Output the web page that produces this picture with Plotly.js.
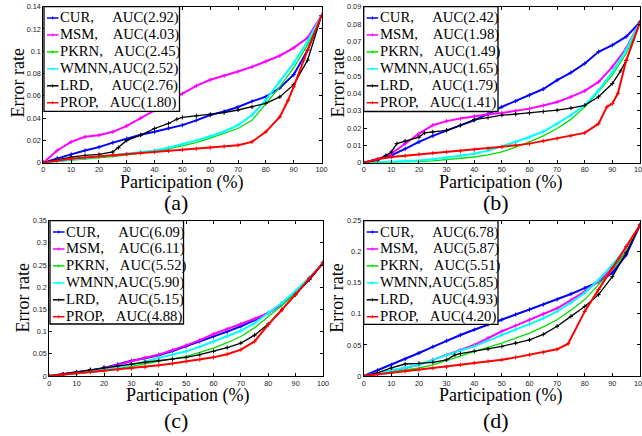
<!DOCTYPE html>
<html>
<head>
<meta charset="utf-8">
<script src="https://cdn.plot.ly/plotly-3.0.1.min.js"></script>
<style>html,body{margin:0;padding:0;background:#fff;}#chart{width:642px;height:436px;}</style>
</head>
<body>
<div id="chart"></div>
<script>
// ---------- data ----------
const methods = ["CUR", "MSM", "PKRN", "WMNN", "LRD", "PROP"];
const colors = ["#0000ff", "#ff00ff", "#00e000", "#00ffff", "#000000", "#ff0000"];
const panelLabels = ["(a)", "(b)", "(c)", "(d)"];
const xLabel = "Participation (%)";
const yLabel = "Error rate";

const aucA = ["2.92", "4.03", "2.45", "2.52", "2.76", "1.80"];
const aucB = ["2.42", "1.98", "1.49", "1.65", "1.79", "1.41"];
const aucC = ["6.09", "6.11", "5.52", "5.90", "5.15", "4.88"];
const aucD = ["6.78", "5.87", "5.51", "5.85", "4.93", "4.20"];

const xGrid = [0,5,10,15,20,25,30,35,40,45,50,55,60,65,70,75,80,85,90,95,100];

// panel (a)
const a_CUR  = [0,0.004,0.0075,0.011,0.014,0.018,0.0217,0.025,0.0277,0.031,0.0337,0.038,0.0428,0.046,0.050,0.055,0.0593,0.067,0.079,0.101,0.132];
const a_MSM  = [0,0.011,0.0187,0.0232,0.0247,0.0277,0.033,0.040,0.047,0.055,0.062,0.069,0.0744,0.078,0.0819,0.086,0.0909,0.096,0.103,0.112,0.132];
const a_PKRN = [0,0.001,0.002,0.003,0.004,0.0055,0.007,0.0085,0.010,0.0125,0.015,0.018,0.022,0.026,0.0307,0.038,0.0533,0.068,0.085,0.106,0.132];
const a_WMNN = [0,0.0015,0.003,0.004,0.0055,0.0068,0.008,0.0095,0.011,0.0135,0.0166,0.020,0.0238,0.028,0.0337,0.0428,0.0563,0.0729,0.0894,0.109,0.132];
const a_LRD_x = [0,5,10,15,20,25,27,30,35,40,45,48,50,55,60,65,70,75,80,85,90,95,100];
const a_LRD  = [0,0.0025,0.005,0.0065,0.0075,0.0096,0.0135,0.020,0.0247,0.0307,0.0352,0.039,0.0406,0.042,0.0434,0.045,0.0473,0.050,0.0533,0.059,0.070,0.092,0.132];
const a_PROP_x = [0,5,10,15,20,25,30,35,40,45,50,55,60,65,70,75,80,85,88,90,95,100];
const a_PROP = [0,0.002,0.0036,0.0047,0.0057,0.0066,0.0075,0.0085,0.0096,0.0106,0.0117,0.0126,0.0135,0.0145,0.0157,0.0187,0.0277,0.041,0.056,0.068,0.101,0.132];

// panel (b)
const b_CUR  = [0,0.002,0.0042,0.008,0.012,0.0155,0.0187,0.0215,0.0245,0.028,0.0322,0.0355,0.039,0.0425,0.0476,0.052,0.0572,0.064,0.0678,0.0727,0.081];
const b_MSM  = [0,0.002,0.0052,0.011,0.0168,0.0216,0.024,0.0255,0.0268,0.028,0.0287,0.030,0.0312,0.033,0.035,0.038,0.0414,0.0466,0.0553,0.066,0.081];
const b_PKRN = [0,0.0001,0.0003,0.0005,0.0006,0.001,0.0017,0.0025,0.0033,0.0045,0.0062,0.009,0.012,0.0155,0.0197,0.025,0.0322,0.041,0.0505,0.063,0.081];
const b_WMNN = [0,0.0003,0.0008,0.001,0.0013,0.002,0.0029,0.004,0.0052,0.007,0.0094,0.012,0.0148,0.018,0.0225,0.0275,0.0331,0.0418,0.0524,0.065,0.081];
const b_LRD_x = [0,5,8,10,12,15,20,22,25,30,35,40,45,50,55,60,65,70,75,80,85,90,93,95,100];
const b_LRD  = [0,0.0013,0.0042,0.0062,0.011,0.0125,0.0148,0.0172,0.0178,0.0187,0.0216,0.0249,0.026,0.0274,0.028,0.0287,0.0295,0.0303,0.0315,0.0331,0.038,0.0457,0.053,0.059,0.081];
const b_PROP_x = [0,5,10,15,20,25,30,35,40,45,50,55,60,65,70,75,80,85,88,90,92,95,100];
const b_PROP = [0,0.002,0.0033,0.004,0.0048,0.0055,0.0062,0.0068,0.0075,0.0083,0.0091,0.010,0.011,0.0125,0.0139,0.0155,0.0172,0.0225,0.0322,0.0341,0.040,0.059,0.081];

// panel (c)
const c_CUR  = [0,0.004,0.0083,0.013,0.018,0.026,0.0345,0.040,0.0466,0.056,0.0668,0.078,0.089,0.100,0.112,0.126,0.142,0.162,0.187,0.218,0.255];
const c_MSM  = [0,0.0035,0.0075,0.012,0.017,0.025,0.034,0.041,0.048,0.058,0.069,0.081,0.0946,0.106,0.117,0.129,0.142,0.162,0.187,0.218,0.255];
const c_PKRN = [0,0.0025,0.005,0.008,0.011,0.016,0.0218,0.027,0.033,0.038,0.0443,0.053,0.063,0.075,0.089,0.109,0.134,0.159,0.187,0.219,0.255];
const c_WMNN = [0,0.003,0.006,0.010,0.014,0.019,0.0255,0.033,0.0405,0.048,0.0556,0.066,0.078,0.090,0.102,0.119,0.142,0.165,0.192,0.222,0.255];
const c_LRD  = [0,0.0045,0.009,0.0145,0.0195,0.023,0.027,0.031,0.0345,0.038,0.042,0.048,0.0556,0.064,0.0743,0.092,0.117,0.150,0.183,0.217,0.255];
const c_PROP = [0,0.003,0.006,0.009,0.012,0.014,0.0165,0.020,0.024,0.028,0.033,0.037,0.042,0.049,0.0593,0.078,0.1157,0.149,0.185,0.220,0.255];

// panel (d)
const d_CUR  = [0,0.009,0.018,0.0275,0.037,0.047,0.0568,0.066,0.0745,0.083,0.0906,0.099,0.107,0.115,0.123,0.132,0.1415,0.152,0.166,0.195,0.243];
const d_MSM  = [0,0.004,0.008,0.013,0.018,0.026,0.034,0.042,0.050,0.061,0.072,0.081,0.0906,0.100,0.109,0.122,0.136,0.152,0.174,0.200,0.243];
const d_PKRN = [0,0.003,0.006,0.0095,0.0129,0.018,0.0247,0.032,0.0397,0.046,0.053,0.061,0.069,0.079,0.0906,0.106,0.123,0.147,0.171,0.200,0.243];
const d_WMNN = [0,0.0045,0.009,0.0135,0.018,0.026,0.034,0.041,0.0477,0.057,0.0665,0.075,0.0836,0.093,0.104,0.118,0.1335,0.155,0.179,0.206,0.243];
const d_LRD_x = [0,5,10,15,20,25,30,33,35,40,45,50,55,60,65,70,75,80,85,90,95,100];
const d_LRD  = [0,0.005,0.0129,0.0193,0.0204,0.022,0.026,0.034,0.036,0.0397,0.0435,0.0477,0.053,0.058,0.067,0.080,0.096,0.112,0.131,0.160,0.198,0.243];
const d_PROP_x = [0,5,10,15,20,25,30,35,40,45,50,55,60,65,70,74,80,85,90,95,100];
const d_PROP = [0,0.0025,0.0048,0.0075,0.0102,0.0125,0.0145,0.018,0.021,0.0235,0.026,0.030,0.034,0.038,0.043,0.052,0.104,0.139,0.174,0.2085,0.243];

const yMax = [0.14, 0.09, 0.35, 0.25];
const yStep = [0.02, 0.01, 0.05, 0.05];
const gapSpaces = [5, 4, 3, 0, 5, 3];

// ---------- layout geometry (px) ----------
const W = 642, H = 436;
const boxes = [            // plot area: left, right, top, bottom
  [43.3, 321.5, 6.7, 162.7],
  [363.7, 640, 6.7, 162.7],
  [49.3, 323, 220.7, 376],
  [363.7, 640, 220.7, 376]
];
const legBoxes = [         // legend box: left, top, right, bottom
  [44, 6.7, 179.5, 111.3],
  [363.7, 6.7, 498, 111.5],
  [50, 220.7, 183.5, 324],
  [363.7, 220.7, 498, 324.3]
];
const xTitlePos = [[182, 182.5], [500.8, 182.5], [187.2, 395], [500.8, 395]];
const yTitlePos = [[17.5, 83], [337, 83.5], [22.5, 298], [336.8, 298]];
const panelLabelPos = [[175.5, 202], [496.5, 203], [175.8, 420], [496.5, 420]];

const panels = [
  {auc: aucA, ys: [a_CUR, a_MSM, a_PKRN, a_WMNN, a_LRD, a_PROP], xs: [xGrid, xGrid, xGrid, xGrid, a_LRD_x, a_PROP_x]},
  {auc: aucB, ys: [b_CUR, b_MSM, b_PKRN, b_WMNN, b_LRD, b_PROP], xs: [xGrid, xGrid, xGrid, xGrid, b_LRD_x, b_PROP_x]},
  {auc: aucC, ys: [c_CUR, c_MSM, c_PKRN, c_WMNN, c_LRD, c_PROP], xs: [xGrid, xGrid, xGrid, xGrid, xGrid, xGrid]},
  {auc: aucD, ys: [d_CUR, d_MSM, d_PKRN, d_WMNN, d_LRD, d_PROP], xs: [xGrid, xGrid, xGrid, xGrid, d_LRD_x, d_PROP_x]}
];

const serif = "Liberation Serif, Times New Roman, serif";
const sans = "Liberation Sans, Arial, sans-serif";
const px = v => v / W, py = v => 1 - v / H;
const traces = [];
const shapes = [];
const annotations = [];
const layout = {
  width: W, height: H,
  margin: {l: 0, r: 0, t: 0, b: 0},
  paper_bgcolor: "#fff", plot_bgcolor: "#fff",
  showlegend: false
};

panels.forEach((p, i) => {
  const n = i === 0 ? "" : String(i + 1);
  const b = boxes[i];
  methods.forEach((m, k) => {
    const label = m + "," + "\u00a0".repeat(gapSpaces[k]) + "AUC(" + p.auc[k] + ")";
    const thin = (m === "PKRN");
    traces.push({
      type: "scatter",
      x: p.xs[k], y: p.ys[k],
      xaxis: "x" + n, yaxis: "y" + n,
      name: label,
      mode: thin ? "lines" : "lines+markers",
      line: {color: colors[k], width: (m === "LRD" || thin) ? 1.3 : 2},
      marker: {symbol: "cross-thin", size: 3, line: {color: colors[k], width: 1}, color: colors[k]}
    });
  });
  const axCommon = {
    showline: true, linecolor: "#000", linewidth: 1, mirror: "ticks",
    ticks: "inside", ticklen: 3, tickcolor: "#000", tickwidth: 1,
    showgrid: false, zeroline: false, ticklabeloverflow: "allow",
    tickfont: {family: sans, size: 7.3, color: "#222"}
  };
  layout["xaxis" + n] = Object.assign({}, axCommon, {
    domain: [px(b[0]), px(b[1])], range: [0, 100], dtick: 10, tick0: 0, anchor: "y" + n
  });
  layout["yaxis" + n] = Object.assign({}, axCommon, {
    domain: [py(b[3]), py(b[2])], range: [0, yMax[i]], dtick: yStep[i], tick0: 0, anchor: "x" + n
  });

  // axis titles and panel label
  annotations.push({
    text: xLabel, xref: "paper", yref: "paper", x: px(xTitlePos[i][0]), y: py(xTitlePos[i][1]),
    xanchor: "center", yanchor: "middle", showarrow: false, borderpad: 0,
    font: {family: serif, size: 18, color: "#000"}
  });
  annotations.push({
    text: yLabel, xref: "paper", yref: "paper", x: px(yTitlePos[i][0]), y: py(yTitlePos[i][1]),
    xanchor: "center", yanchor: "middle", textangle: -90, showarrow: false, borderpad: 0,
    font: {family: serif, size: 18, color: "#000"}
  });
  annotations.push({
    text: panelLabels[i], xref: "paper", yref: "paper", x: px(panelLabelPos[i][0]), y: py(panelLabelPos[i][1]),
    xanchor: "center", yanchor: "middle", showarrow: false, borderpad: 0,
    font: {family: serif, size: 22, color: "#000"}
  });

  // legend box
  const L = legBoxes[i];
  shapes.push({
    type: "rect", xref: "paper", yref: "paper", layer: "above",
    x0: px(L[0]), x1: px(L[2]), y0: py(L[1]), y1: py(L[3]),
    fillcolor: "#fff", line: {color: "#000", width: 1.3}
  });
  const rowH = 16.95;
  methods.forEach((m, k) => {
    const ry = L[1] + 11.3 + k * rowH;
    shapes.push({
      type: "line", xref: "paper", yref: "paper", layer: "above",
      x0: px(L[0] + 3), x1: px(L[0] + 14.5), y0: py(ry), y1: py(ry),
      line: {color: colors[k], width: 1.5}
    });
    shapes.push({
      type: "line", xref: "paper", yref: "paper", layer: "above",
      x0: px(L[0] + 8.7), x1: px(L[0] + 8.7), y0: py(ry - 1.5), y1: py(ry + 1.5),
      line: {color: colors[k], width: 1}
    });
    annotations.push({
      text: traces[i * 6 + k].name, xref: "paper", yref: "paper",
      x: px(L[0] + 15.3), y: py(ry), xanchor: "left", yanchor: "middle",
      showarrow: false, borderpad: 0,
      font: {family: serif, size: 14.7, color: "#000"}
    });
  });
});
layout.shapes = shapes;
layout.annotations = annotations;

Plotly.newPlot("chart", traces, layout, {staticPlot: true});
</script>
</body>
</html>
